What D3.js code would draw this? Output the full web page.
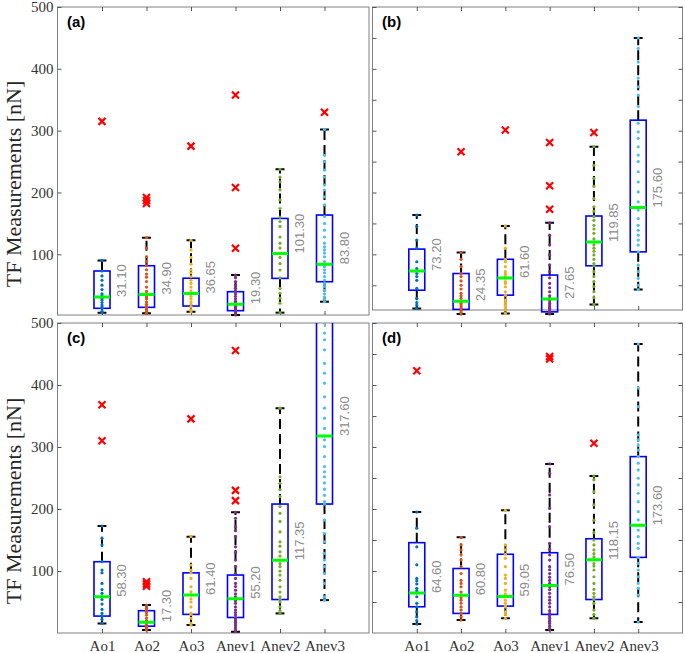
<!DOCTYPE html>
<html><head><meta charset="utf-8">
<script src="https://cdn.jsdelivr.net/npm/d3@7"></script>
<style>body{margin:0;background:#fff}</style>
</head><body>
<svg id="c" width="685" height="653"></svg>
<script>
const categories = ["Ao1","Ao2","Ao3","Anev1","Anev2","Anev3"];
const panelLabels = ["(a)","(b)","(c)","(d)"];
const yLabel = "TF Measurements [nN]";
const catColors = ["#0072BD","#D95319","#EDB120","#7E2F8E","#77AC30","#4DBEEE"];
const labeledTicks = [100,200,300,400,500];
const minorTicks = [50,100,150,200,250,300,350,400,450,500];

const medians = [
  [31.10,34.90,36.65,19.30,101.30,83.80],
  [73.20,24.35,61.60,27.65,119.85,175.60],
  [58.30,17.30,61.40,55.20,117.35,317.60],
  [64.60,60.80,59.05,76.50,118.15,173.60]
];
const q1 = [
  [12.6,14.2,16.3,8.8,61,55.6],
  [42,11,34,7,81.5,104],
  [27.3,11,30,25,54,208],
  [42.3,31.6,43.4,30,54,122]
];
const q3 = [
  [73,81.5,61.3,39.5,158,163.5],
  [108.5,69,92,66.5,162,317],
  [115,36,97,93.5,208,520],
  [145.7,104,127,129.5,152,284.5]
];
const whiskerLow = [
  [5.5,4.5,7,2,5.6,23.3],
  [12.6,3.4,4.5,3.4,19,43],
  [15.5,4.7,12.8,2,31.6,53],
  [14.4,20.8,23.6,4.7,23.6,17.6]
];
const whiskerHigh = [
  [90,126.8,122.6,66.5,237.4,302],
  [163.5,103,146,151,274,450],
  [172.6,45,155.4,194.7,362.7,560],
  [195,154.3,198,272.7,253.3,466]
];
const outliers = [
  [[315],[192,187,182],[275],[357.5,208,109.7],[],[329.6]],
  [[],[266],[301],[281,211,173],[297],[]],
  [[368,310],[82.7,79,75.5],[345.4],[455.7,230,213.5],[],[]],
  [[423],[],[],[446,442],[306],[]]
];
const pointsA = [
  [5.5,8,12.6,15,18,22,26,29,31.1,33,36,43,50,58,65,73,90],
  [4.5,7,10,14.2,16,19,23,28,31,34.9,40,47,56,63,68,75,81.5,88,96,110,126.8],
  [7,10,15,19,23,28,32,36.65,41,47,53,58,64,70,75,84,95,107,122.6],
  [2,4,6,8,10,12,14,16,18,19.3,21,24,28,32,36,40,45,50,56,62,66.5],
  [5.6,21,29,37,45,62,74.6,85,95,101.3,110,118,128,145,153,160,174,188,204,217,225,237.4],
  [23.3,28,31,36,42,48,53,58,64,70,75,80,83.8,88,96,102,107,112,118,128,139,150,161,180,193,204,212,225,236,250,260,302]
];
const pointsB = [
  [12.6,18,22,29,45,58,64,69,73.2,77,88,110,123,145,163.5],
  [3.4,6,9,12,15,18,21,24.35,29,33,37,44,50,57,64,69,80,92,103],
  [4.5,10,14,18,22,26,34,39.5,47.6,53,56,61.6,64,68,72,80,88,92,110,146],
  [3.4,6,8,10,13,15,18,21,25,27.65,29,33,39.5,46,53,62,72,83,99,115,131,151],
  [19,30,39.5,48,56,64,72,81.5,85,92,99,105,110,115,119.85,125,134,141,147,155,161,170,177,190,210,223,244,274,297],
  [43,50,61,72,82.7,104,115,123,131,139,147,158,171.6,175.6,185,201,217,233.6,250,260.6,274,287.6,298,312,339,357.6,371,385,411,433,450]
];
const pointsC = [
  [15.5,22,27.3,31.6,38,46.7,54,58.3,64,70,80,97,101.6,115,142,152.7,172.6],
  [4.7,7,9,11,13,15,17.3,20,24,29,33,36,40,45],
  [12.8,15.5,23.6,30,31.6,42,50,55,61.4,66.5,74.6,88,97,101.6,109.6,155.4],
  [2,4.7,8,12.8,17,20.8,25,29,33,37,42,47.8,52,55.2,58.5,63,69,75,80,88,96,107,117.7,130,139,155,165,171.5,185,194.7],
  [31.6,36,42,50,54,58.5,66,74.6,85,93.5,100,107,112,117.35,124,131,140,147,163,180,193,204,220,231,241.5,252,362.7],
  [53,58.5,80,96,107,117.7,128.5,147,160.8,182,208,212,222,232,242,252,260,268.4,284.5,300.7,311.5,317.6,330,346.5,362.7,381,403,419,435,456.8,473,483.8,500]
];
const pointsD = [
  [14.4,20,26,34,42.3,47.8,58.5,64.6,68,72,79,84,88,110,139,169,195],
  [20.8,26,31.6,37,42,48,53,57,60.8,66,74.6,80,85,96,107,117.7,126,134,142,154.3],
  [23.6,30,34,42,43.4,48,53,59.05,63,69,80,88,93.5,107,120.5,127,134,142,198],
  [4.7,7.4,11,15.5,19,23.6,28,31.6,36,42,48,53,58,64,70,74.6,76.5,80,85,90,96,102,107,117.7,125.8,135,144.7,171.5,201,222.7,257.7,272.7],
  [23.6,30,37,47.8,54,58.5,64,70.4,80,90.7,101.6,108,112,118.15,123,128,134,142,150,161.8,182,206.5,228,247,253.3],
  [17.6,61,72,80,90.7,101.6,112.4,122,136.6,144.7,155.3,166,173.6,182.3,195.7,211.8,225.4,238.8,249.6,263,273.9,284.5,295,303.4,311.5,319.6,365,395,466]
];
const yMinLimits = [1.8, 10, 0, 0];
const yMaxLimit = 500;

const allPoints = [pointsA, pointsB, pointsC, pointsD];

const layouts = [
  {x0:57.5, x1:369,   y0:7,   y1:315, labeled:true,  xlabels:false},
  {x0:372.5,x1:682.5, y0:7,   y1:310, labeled:false, xlabels:false},
  {x0:57.5, x1:369,   y0:323, y1:633, labeled:true,  xlabels:true},
  {x0:372.5,x1:682.5, y0:323, y1:633, labeled:false, xlabels:true}
];

const svg = d3.select("#c");
const defs = svg.append("defs");
const frameColor = "#808080";

layouts.forEach((L, p) => {
  const x = d3.scaleLinear().domain([0, categories.length + 1]).range([L.x0, L.x1]);
  const y = d3.scaleLinear().domain([yMinLimits[p], yMaxLimit]).range([L.y1, L.y0]);
  const g = svg.append("g");

  defs.append("clipPath").attr("id", "clip" + p)
    .append("rect").attr("x", L.x0).attr("y", L.y0)
    .attr("width", L.x1 - L.x0).attr("height", L.y1 - L.y0 + 8);

  // frame
  g.append("rect").attr("x", L.x0).attr("y", L.y0)
    .attr("width", L.x1 - L.x0).attr("height", L.y1 - L.y0)
    .attr("fill", "none").attr("stroke", frameColor).attr("stroke-width", 1);

  const styleAxis = sel => {
    sel.select(".domain").remove();
    sel.selectAll(".tick line").attr("stroke", "#555");
    sel.selectAll("text").attr("fill", "#333")
      .attr("font-family", "'Liberation Serif','Times New Roman',serif")
      .attr("font-size", "15px");
  };

  const catTicks = categories.map((c, i) => i + 1);
  g.append("g").attr("transform", `translate(0,${L.y0})`)
    .call(d3.axisTop(x).tickValues(catTicks).tickSize(-4).tickFormat(""))
    .call(styleAxis);
  g.append("g").attr("transform", `translate(0,${L.y1})`)
    .call(d3.axisBottom(x).tickValues(catTicks).tickSize(-4).tickPadding(7)
      .tickFormat(L.xlabels ? (d => categories[d - 1]) : ""))
    .call(styleAxis);

  if (L.labeled) {
    g.append("g").attr("transform", `translate(${L.x0},0)`)
      .call(d3.axisLeft(y).tickValues(labeledTicks).tickSize(-4).tickPadding(4))
      .call(styleAxis);
    g.append("text")
      .attr("transform", `translate(21,${(L.y0 + L.y1) / 2 + 23}) rotate(-90)`)
      .attr("text-anchor", "middle")
      .attr("font-family", "'Liberation Serif','Times New Roman',serif")
      .attr("font-size", "22px").attr("fill", "#262626")
      .text(yLabel);
  } else {
    g.append("g").attr("transform", `translate(${L.x0},0)`)
      .call(d3.axisLeft(y).tickValues(minorTicks).tickSize(-4).tickFormat(""))
      .call(styleAxis);
    g.append("g").attr("transform", `translate(${L.x1},0)`)
      .call(d3.axisRight(y).tickValues(minorTicks).tickSize(-4).tickFormat(""))
      .call(styleAxis);
  }

  // panel label
  g.append("text").attr("x", L.x0 + 9.5).attr("y", L.y0 + 20)
    .attr("font-family", "'Liberation Sans',Arial,sans-serif")
    .attr("font-weight", "bold").attr("font-size", "15px").attr("fill", "#000")
    .text(panelLabels[p]);

  const plot = g.append("g").attr("clip-path", `url(#clip${p})`);

  categories.forEach((c, i) => {
    const cx = x(i + 1);
    const bl = x(i + 1 - 0.18), br = x(i + 1 + 0.18);
    const capL = x(i + 1 - 0.1), capR = x(i + 1 + 0.1);
    const cg = plot.append("g");
    // whiskers
    [[q3[p][i], whiskerHigh[p][i]], [q1[p][i], whiskerLow[p][i]]].forEach(([a, b]) => {
      cg.append("line").attr("x1", cx).attr("x2", cx).attr("y1", y(a)).attr("y2", y(b))
        .attr("stroke", "#000").attr("stroke-width", 2).attr("stroke-dasharray", "10,5");
    });
    [whiskerHigh[p][i], whiskerLow[p][i]].forEach(v => {
      cg.append("line").attr("x1", capL).attr("x2", capR).attr("y1", y(v)).attr("y2", y(v))
        .attr("stroke", "#000").attr("stroke-width", 2);
    });
    // box
    cg.append("rect").attr("x", bl).attr("y", y(q3[p][i]))
      .attr("width", br - bl).attr("height", y(q1[p][i]) - y(q3[p][i]))
      .attr("fill", "none").attr("stroke", "#0000FF").attr("stroke-width", 1.6);
    // points
    cg.selectAll("circle.pt").data(allPoints[p][i]).enter().append("circle")
      .attr("cx", cx).attr("cy", d => y(d)).attr("r", 1.6)
      .attr("fill", catColors[i]);
    // median
    cg.append("line").attr("x1", bl).attr("x2", br)
      .attr("y1", y(medians[p][i])).attr("y2", y(medians[p][i]))
      .attr("stroke", "#00FF00").attr("stroke-width", 3);
    // outliers
    cg.selectAll("path.out").data(outliers[p][i]).enter().append("path")
      .attr("transform", d => `translate(${cx},${y(d)})`)
      .attr("d", "M-3.5,-3.5L3.5,3.5M-3.5,3.5L3.5,-3.5")
      .attr("stroke", "#FF0000").attr("stroke-width", 2.2).attr("fill", "none");
  });

  // median labels
  categories.forEach((c, i) => {
    g.append("text")
      .attr("transform", `translate(${x(i + 1) + 24},${y(medians[p][i])}) rotate(-90)`)
      .attr("text-anchor", "start")
      .attr("font-family", "'Liberation Sans',Arial,sans-serif")
      .attr("font-size", "13px").attr("fill", "#8c8c8c")
      .text(d3.format(".2f")(medians[p][i]));
  });
});
</script>
</body></html>
